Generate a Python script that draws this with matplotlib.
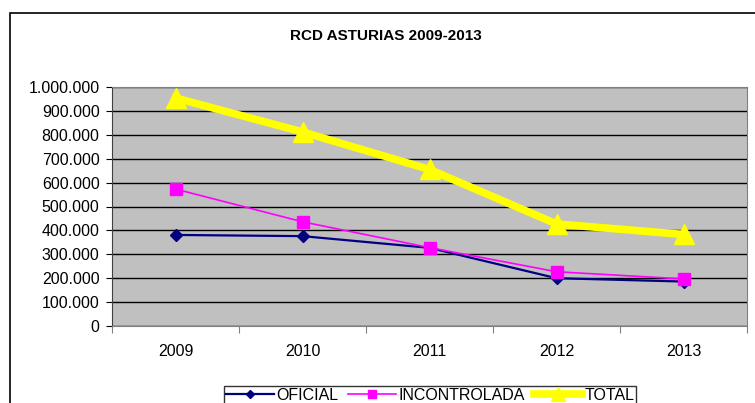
import matplotlib.pyplot as plt
import matplotlib.patches as mpatches
from matplotlib.ticker import FuncFormatter, MultipleLocator, FixedLocator
import numpy as np

plt.rcParams['font.family'] = ['Liberation Sans', 'DejaVu Sans']

years = ['2009', '2010', '2011', '2012', '2013']
oficial = [381000, 376000, 327000, 200000, 186000]
incontrolada = [573000, 436000, 328000, 227000, 197000]
total = [954000, 812000, 655000, 427000, 383000]

x = np.arange(len(years))

fig = plt.figure(figsize=(7.55, 4.03), dpi=100)
ax = fig.add_axes([112/755, 1-326/403, 635/755, 239/403])

# outer chart frame
fig.patches.append(mpatches.Rectangle((10/755, -0.1), 1.2, 1 - 13/403 + 0.1,
                                      transform=fig.transFigure, fill=False,
                                      edgecolor='black', linewidth=1.2))

ax.set_facecolor('#C0C0C0')
ax.set_xlim(-0.5, len(years) - 0.5)
ax.set_ylim(0, 1000000)
ax.yaxis.set_major_locator(MultipleLocator(100000))
ax.yaxis.set_major_formatter(FuncFormatter(lambda v, p: f'{int(v):,}'.replace(',', '.')))
ax.grid(axis='y', color='black', linewidth=1)
ax.set_axisbelow(True)

ax.xaxis.set_major_locator(FixedLocator(np.arange(-0.5, len(years), 1)))
ax.xaxis.set_major_formatter(FuncFormatter(lambda v, p: ''))
ax.set_xticks(x, minor=True)
ax.set_xticklabels(years, minor=True)
ax.tick_params(axis='x', which='minor', length=0, pad=13, labelsize=11.5)
ax.tick_params(axis='x', which='major', length=5, color='#808080')
ax.tick_params(axis='y', length=4, labelsize=11.5, pad=5)

for side in ['top', 'right']:
    ax.spines[side].set_color('#808080')
ax.spines['left'].set_color('#404040')
ax.spines['bottom'].set_color('#808080')

ax.plot(x, oficial, color='#000080', linewidth=1.6, marker='D', markersize=6,
        label='OFICIAL')
ax.plot(x, incontrolada, color='#FF00FF', linewidth=1.2, marker='s', markersize=8,
        label='INCONTROLADA')
ax.plot(x, total, color='#FFFF00', linewidth=5.5, marker='^', markersize=14,
        label='TOTAL')

fig.text(386/755, 1 - 36/403, 'RCD ASTURIAS 2009-2013', fontsize=11,
         fontweight='bold', ha='center', va='center')

leg = fig.legend(loc='upper center', bbox_to_anchor=(430/755, 1 - 378/403), ncol=3,
                 frameon=True, fancybox=False, edgecolor='black', fontsize=11.5,
                 handlelength=3.0, handletextpad=0.15, columnspacing=0.6,
                 borderpad=0.12, markerscale=0.7)
leg.get_frame().set_linewidth(1)

fig.savefig('out.png', dpi=100)
